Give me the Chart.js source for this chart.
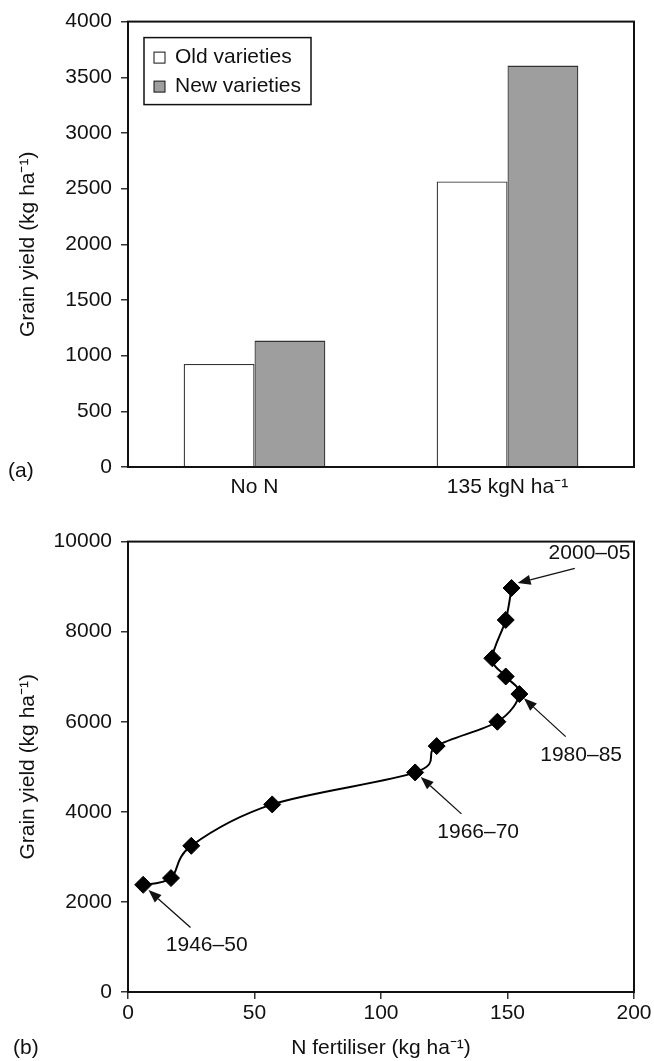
<!DOCTYPE html>
<html>
<head>
<meta charset="utf-8">
<script src="https://cdn.jsdelivr.net/npm/chart.js@4.4.0/dist/chart.umd.min.js"></script>
<style>
  body { margin: 0; background: #fff; }
  #wrapA { position: absolute; left: 0; top: 0; width: 654px; height: 510px; }
  #wrapB { position: absolute; left: 0; top: 520px; width: 654px; height: 541px; }
</style>
</head>
<body>
<div id="wrapA"><canvas id="chartA" width="654" height="510"></canvas></div>
<div id="wrapB"><canvas id="chartB" width="654" height="541"></canvas></div>
<script>
// (a) grain yield by N treatment
const categories = ['No N', '135 kgN ha⁻¹'];
const oldVarieties = [925, 2565];
const newVarieties = [1135, 3605];

// (b) yield vs N fertiliser, 1946-50 .. 2000-05
const nFertiliser = [6, 17, 25, 57, 113.5, 122, 146, 154.7, 149.3, 144, 149.3, 151.6];
const grainYield = [2380, 2530, 3245, 4165, 4875, 5460, 6000, 6615, 7005, 7410, 8260, 8970];

// period call-outs (data units)
const periodLabels = ['2000–05', '1980–85', '1966–70', '1946–50'];
const labelAtN = [182.4, 179.1, 138.4, 31.1];
const labelAtYield = [9750, 5250, 3540, 1045];
const arrowFromN = [176.6, 173.0, 131.8, 24.7];
const arrowFromYield = [9405, 5670, 3955, 1430];
const arrowToN = [154.0, 156.5, 115.7, 8.1];
const arrowToYield = [9080, 6520, 4775, 2265];

Chart.defaults.font.family = "'Liberation Sans', Arial, Helvetica, sans-serif";
Chart.defaults.font.size = 21;
Chart.defaults.color = '#111';

const ink = '#111';
const plainTick = v => String(v);   // no thousands separator

// box around the plot area
const framePlugin = {
    id: 'frame',
    afterDraw(chart) {
        const { ctx, chartArea: a } = chart;
        ctx.save();
        ctx.strokeStyle = ink;
        ctx.lineWidth = 2;
        ctx.strokeRect(a.left, a.top, a.right - a.left, a.bottom - a.top);
        ctx.restore();
    }
};

// "(a)" / "(b)" tags
const panelTag = {
    id: 'panelTag',
    afterDraw(chart, args, opts) {
        const ctx = chart.ctx;
        ctx.save();
        ctx.font = "21px 'Liberation Sans', Arial, sans-serif";
        ctx.fillStyle = ink;
        ctx.textBaseline = 'middle';
        ctx.fillText(opts.text, opts.x, opts.y);
        ctx.restore();
    }
};

// boxed legend inside the plot
const boxLegend = {
    id: 'boxLegend',
    afterDraw(chart) {
        const { ctx, chartArea: a } = chart;
        const x0 = a.left + 16, y0 = a.top + 16;
        ctx.save();
        ctx.strokeStyle = ink;
        ctx.lineWidth = 1.5;
        ctx.strokeRect(x0, y0, 167, 67);
        ctx.font = "21px 'Liberation Sans', Arial, sans-serif";
        ctx.textBaseline = 'middle';
        chart.data.datasets.forEach((ds, i) => {
            const cy = y0 + 20 + i * 29;
            ctx.fillStyle = ds.backgroundColor;
            ctx.fillRect(x0 + 10, cy - 5.5, 11, 11);
            ctx.lineWidth = 1;
            ctx.strokeRect(x0 + 10, cy - 5.5, 11, 11);
            ctx.fillStyle = ink;
            ctx.fillText(ds.label, x0 + 31, cy);
        });
        ctx.restore();
    }
};

// Excel-style smoothing: uniform Catmull-Rom handles instead of the distance-weighted ones
const excelSmooth = {
    id: 'excelSmooth',
    beforeDatasetDraw(chart, args) {
        const meta = args.meta;
        if (!meta.dataset || typeof meta.dataset.updateControlPoints !== 'function') return;
        meta.dataset.updateControlPoints(chart.chartArea, 'x');
        const pts = meta.data;
        const k = 1 / 6;
        pts.forEach((p, i) => {
            const prev = pts[Math.max(i - 1, 0)];
            const next = pts[Math.min(i + 1, pts.length - 1)];
            const dx = (next.x - prev.x) * k, dy = (next.y - prev.y) * k;
            p.cp1x = p.x - dx; p.cp1y = p.y - dy;
            p.cp2x = p.x + dx; p.cp2y = p.y + dy;
        });
    }
};

// arrows + period labels
const callouts = {
    id: 'callouts',
    afterDatasetsDraw(chart) {
        const { ctx, scales: { x, y } } = chart;
        ctx.save();
        ctx.strokeStyle = ink;
        ctx.fillStyle = ink;
        ctx.lineWidth = 1.3;
        periodLabels.forEach((txt, i) => {
            const x1 = x.getPixelForValue(arrowFromN[i]), y1 = y.getPixelForValue(arrowFromYield[i]);
            const x2 = x.getPixelForValue(arrowToN[i]), y2 = y.getPixelForValue(arrowToYield[i]);
            const ang = Math.atan2(y2 - y1, x2 - x1);
            const len = 13, hw = 5;
            const bx = x2 - len * Math.cos(ang), by = y2 - len * Math.sin(ang);
            ctx.beginPath();
            ctx.moveTo(x1, y1);
            ctx.lineTo(bx, by);
            ctx.stroke();
            ctx.beginPath();
            ctx.moveTo(x2, y2);
            ctx.lineTo(bx + hw * Math.sin(ang), by - hw * Math.cos(ang));
            ctx.lineTo(bx - hw * Math.sin(ang), by + hw * Math.cos(ang));
            ctx.closePath();
            ctx.fill();
            ctx.font = "21px 'Liberation Sans', Arial, sans-serif";
            ctx.textAlign = 'center';
            ctx.textBaseline = 'middle';
            ctx.fillText(txt, x.getPixelForValue(labelAtN[i]), y.getPixelForValue(labelAtYield[i]));
        });
        ctx.restore();
    }
};

const tickGrid = { drawOnChartArea: false, tickLength: 7, color: '#333', lineWidth: 1.5 };
const axisBorder = { color: ink, width: 2 };

new Chart(document.getElementById('chartA'), {
    type: 'bar',
    data: {
        labels: categories,
        datasets: [
            { label: 'Old varieties', data: oldVarieties, backgroundColor: '#ffffff', borderColor: '#333', borderWidth: 1.3 },
            { label: 'New varieties', data: newVarieties, backgroundColor: '#9e9e9e', borderColor: '#333', borderWidth: 1.3 }
        ]
    },
    options: {
        responsive: false,
        animation: false,
        categoryPercentage: 0.56,
        barPercentage: 1.0,
        layout: { padding: { top: 16, right: 20, left: 0, bottom: 0 } },
        plugins: {
            legend: { display: false },
            tooltip: { enabled: false },
            panelTag: { text: '(a)', x: 8, y: 471 }
        },
        scales: {
            x: {
                grid: { display: false, drawTicks: false },
                border: axisBorder,
                ticks: { padding: 8 },
                afterFit: s => { s.height = 43; }
            },
            y: {
                min: 0, max: 4000,
                ticks: { stepSize: 500, padding: 9, callback: plainTick },
                grid: tickGrid,
                border: axisBorder,
                title: { display: true, text: 'Grain yield (kg ha⁻¹)', padding: { top: 16, bottom: 0 } },
                afterFit: s => { s.width = 128; }
            }
        }
    },
    plugins: [framePlugin, boxLegend, panelTag]
});

new Chart(document.getElementById('chartB'), {
    type: 'scatter',
    data: {
        datasets: [{
            data: nFertiliser.map((n, i) => ({ x: n, y: grainYield[i] })),
            showLine: true,
            tension: 0.4,
            borderColor: '#000',
            borderWidth: 2,
            pointStyle: 'rectRot',
            pointRadius: 8.5,
            pointBackgroundColor: '#000',
            pointBorderColor: '#000',
            pointBorderWidth: 1
        }]
    },
    options: {
        responsive: false,
        animation: false,
        layout: { padding: { top: 21, right: 20, left: 0, bottom: 0 } },
        plugins: {
            legend: { display: false },
            tooltip: { enabled: false },
            panelTag: { text: '(b)', x: 13, y: 528 }
        },
        scales: {
            x: {
                type: 'linear', min: 0, max: 200,
                ticks: { stepSize: 50, padding: 2, callback: plainTick },
                grid: tickGrid,
                border: axisBorder,
                title: { display: true, text: 'N fertiliser (kg ha⁻¹)', padding: 0 },
                afterFit: s => { s.height = 69; }
            },
            y: {
                min: 0, max: 10000,
                ticks: { stepSize: 2000, padding: 9, callback: plainTick },
                grid: tickGrid,
                border: axisBorder,
                title: { display: true, text: 'Grain yield (kg ha⁻¹)', padding: { top: 16, bottom: 0 } },
                afterFit: s => { s.width = 128; }
            }
        }
    },
    plugins: [framePlugin, excelSmooth, callouts, panelTag]
});
</script>
</body>
</html>
